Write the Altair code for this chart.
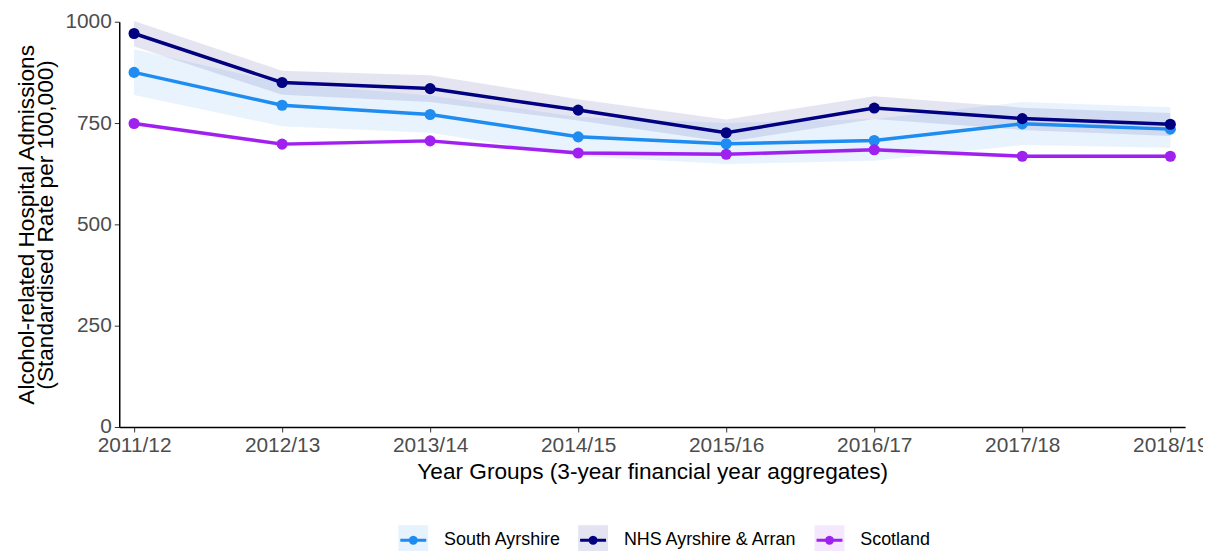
import math
import altair as alt
import pandas as pd

years = ["2011/12", "2012/13", "2013/14", "2014/15", "2015/16", "2016/17", "2017/18", "2018/19"]
series_names = ["South Ayrshire", "NHS Ayrshire & Arran", "Scotland"]
series_colors = ["#1E8CF0", "#000080", "#A020F0"]
series_light = ["rgba(30,140,240,0.11)", "rgba(0,0,128,0.11)", "rgba(160,32,240,0.11)"]

sa_rate = [875, 794, 771, 716, 699, 707, 748, 735]
sa_lower = [819, 742, 726, 669, 649, 657, 696, 689]
sa_upper = [932, 848, 818, 765, 750, 760, 802, 789]

nhs_rate = [971, 850, 835, 782, 726, 787, 761, 747]
nhs_lower = [939, 820, 802, 756, 703, 760, 733, 718]
nhs_upper = [1002, 879, 868, 809, 759, 816, 788, 775]

sco_rate = [749, 698, 706, 676, 673, 684, 668, 668]
sco_lower = [744, 693, 701, 671, 668, 679, 663, 663]
sco_upper = [754, 703, 711, 681, 678, 689, 673, 673]

rows = []
for name, r, lo, hi in [
    ("South Ayrshire", sa_rate, sa_lower, sa_upper),
    ("NHS Ayrshire & Arran", nhs_rate, nhs_lower, nhs_upper),
    ("Scotland", sco_rate, sco_lower, sco_upper),
]:
    for y, a, b, c in zip(years, r, lo, hi):
        rows.append({"year": y, "area": name, "area_line": name,
                     "rate": a, "lower": b, "upper": c})
df = pd.DataFrame(rows)

font = "Liberation Sans"

# Legend key glyph (unit square coordinates): a pale box drawn by the
# translucent stroke of vertical strips, plus a dark filled line and dot.
strips = " ".join(f"M {x:.3f} -1 L {x:.3f} 1" for x in
                  [-0.867 + i * (1.734 / 7) for i in range(8)])
line_rect = "M -0.87 -0.1 L 0.87 -0.1 L 0.87 0.1 L -0.87 0.1 Z"
n_sides = 16
dot_r = 0.3
dot_poly = "M " + " L ".join(
    f"{dot_r * math.cos(2 * math.pi * k / n_sides):.3f} {dot_r * math.sin(2 * math.pi * k / n_sides):.3f}"
    for k in range(n_sides)
) + " Z"
key_path = f"{strips} {line_rect} {dot_poly}"


def legend():
    return alt.Legend(
        orient="none",
        direction="horizontal",
        legendX=279,
        legendY=505,
        symbolType=key_path,
        symbolSize=900,
        symbolStrokeWidth=4,
        symbolOpacity=1,
        labelFontSize=18,
        labelFont=font,
        labelColor="#000000",
        labelOffset=14,
        labelLimit=400,
        columnPadding=10,
        title=None,
    )


xenc = alt.X(
    "year:O",
    sort=years,
    scale=alt.Scale(type="point", padding=0.1),
    title="Year Groups (3-year financial year aggregates)",
    axis=alt.Axis(labelAngle=0),
)
dark_scale = alt.Scale(domain=series_names, range=series_colors)

band = alt.Chart(df).mark_area(fillOpacity=0.1, strokeWidth=0).encode(
    x=xenc,
    y=alt.Y("lower:Q"),
    y2="upper:Q",
    fill=alt.Fill("area:N", scale=dark_scale, legend=legend()),
    stroke=alt.Stroke("area:N", scale=alt.Scale(domain=series_names, range=series_light),
                      legend=legend()),
)

line = alt.Chart(df).mark_line(strokeWidth=3.5).encode(
    x=xenc,
    y=alt.Y(
        "rate:Q",
        scale=alt.Scale(domain=[0, 1000], nice=False, zero=True),
        title=["Alcohol-related Hospital Admissions", "(Standardised Rate per 100,000)"],
        axis=alt.Axis(values=[0, 250, 500, 750, 1000], format="d"),
    ),
    color=alt.Color("area_line:N", scale=alt.Scale(range=series_colors),
                    sort=series_names, legend=None),
)

points = alt.Chart(df).mark_circle(size=125, opacity=1).encode(
    x=xenc,
    y="rate:Q",
    fill=alt.Fill("area:N", scale=dark_scale, legend=legend()),
)

chart = (
    alt.layer(band, line, points)
    .properties(
        width=1073,
        height=408,
        padding={"left": 112, "top": 12, "right": 18, "bottom": 123},
        autosize=alt.AutoSizeParams(type="none"),
    )
    .configure_view(stroke=None)
    .configure_axis(
        grid=False,
        domainColor="#000000",
        domainWidth=1.5,
        tickColor="#333333",
        tickSize=5,
        tickWidth=1,
        labelFont=font,
        labelFontSize=21,
        labelColor="#4D4D4D",
        titleFont=font,
        titleFontSize=22.8,
        titleFontWeight="normal",
        titleColor="#000000",
    )
    .configure_axisX(labelPadding=3, titlePadding=5)
    .configure_axisY(titlePadding=7, labelPadding=3, titleLineHeight=20)
)

chart.save("out.html", embed_options={"renderer": "svg", "actions": False})
